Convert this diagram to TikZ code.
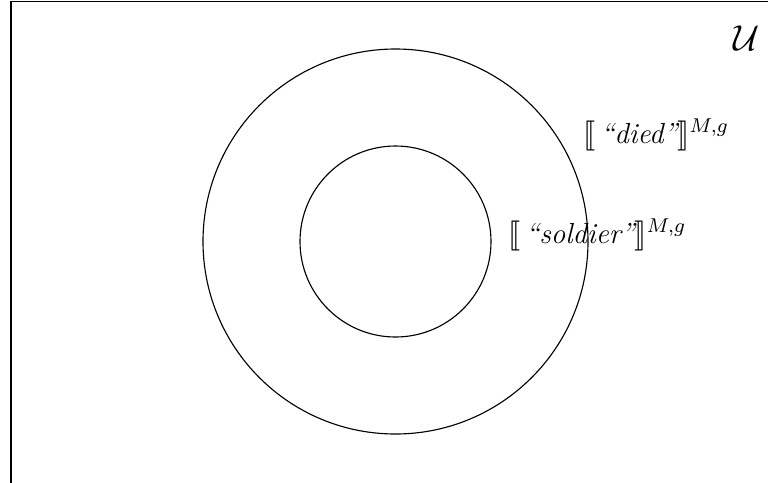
\documentclass[tikz,border=0pt]{standalone}
\usepackage{amsmath,amssymb,stmaryrd}
\begin{document}
\begin{tikzpicture}[x=0.4pt,y=-0.4pt,
  frame/.style={line width=0.6pt},
  setline/.style={line width=0.45pt},
  lbl/.style={inner sep=0pt,anchor=base west,font=\fontsize{11.6}{14}\selectfont}]
\useasboundingbox (0,0) rectangle (768,482);
\clip (0,0) rectangle (768,482);
\draw[frame] (11,490) -- (11,1.5) -- (780,1.5);
\node[draw,setline,circle,minimum size=385*0.4pt,inner sep=0pt] (died) at (395.5,241.5) {};
\node[draw,setline,circle,minimum size=191*0.4pt,inner sep=0pt] (soldier) at (395.5,241.5) {};
\node[inner sep=0pt,anchor=base west] (U) at (733,50) {\Large$\mathcal{U}$};
\node[lbl] (diedlbl) at (583,143) {$\llbracket\,\textit{``died''}\rrbracket^{M,g}$};
\node[lbl] (soldierlbl) at (508,243) {$\llbracket\,\textit{``soldier''}\rrbracket^{M,g}$};
\end{tikzpicture}
\end{document}
